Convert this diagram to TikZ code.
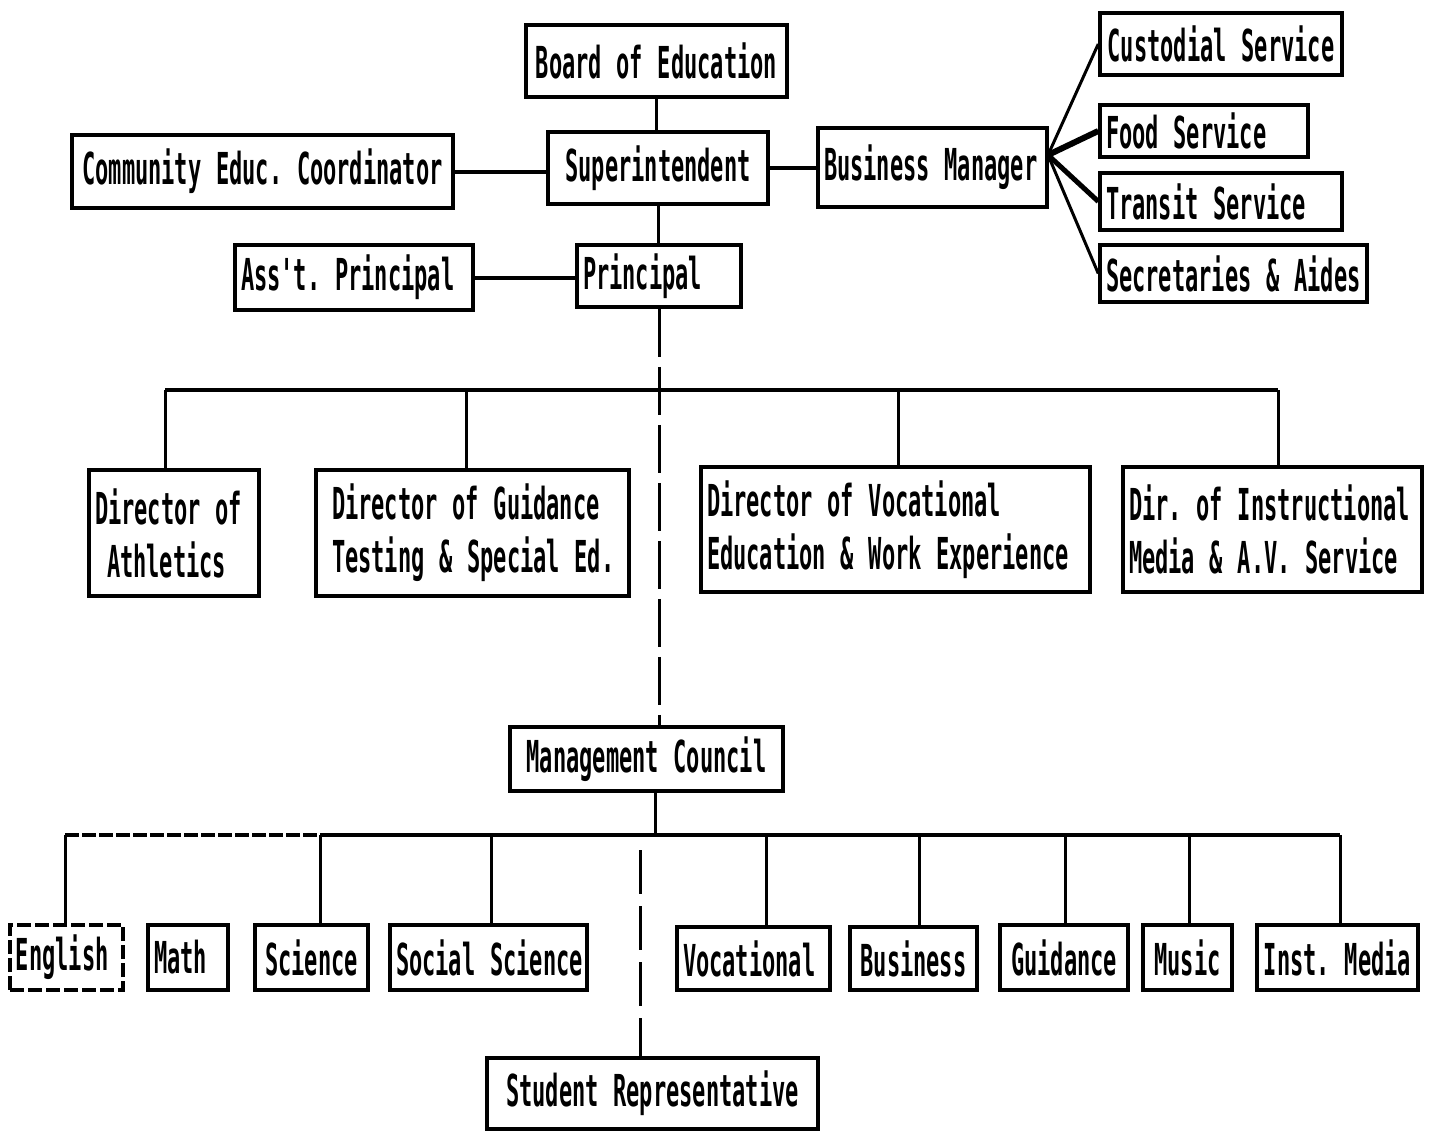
\documentclass[tikz,border=0pt]{standalone}
\usepackage{fontspec}
\newfontfamily\typefont[FakeStretch=0.5]{DejaVu Sans Mono}
\tikzset{
  box/.style={draw, line width=3.5pt, inner xsep=6pt, inner ysep=0pt,
              font=\typefont\bfseries\fontsize{44}{53}\selectfont\frenchspacing},
  link/.style={line width=3pt},
  bus/.style={line width=4pt},
  spinedash/.style={line width=3pt, dash pattern=on 48pt off 10pt},
  dashedbox/.style={dash pattern=on 14pt off 4pt},
}
% name, x1, y1, x2, y2, options, text
\newcommand\bx[7]{%
  \pgfmathsetmacro\bxw{#4-#2}%
  \pgfmathsetmacro\bxh{#5-#3}%
  \pgfmathsetmacro\bxt{#4-#2-12}%
  \pgfmathsetmacro\bxcx{(#2+#4)/2}%
  \pgfmathsetmacro\bxcy{(#3+#5)/2}%
  \node[box, minimum width=\bxw pt, minimum height=\bxh pt, text width=\bxt pt, #6] (#1) at (\bxcx,\bxcy) {#7};}
\begin{document}
\begin{tikzpicture}[x=1pt,y=-1pt]
\fill[white] (0,0) rectangle (1434,1132);
\useasboundingbox (0,0) rectangle (1434,1132);

% top level
\bx{boe}{526}{25}{787}{97}{align=center}{\mbox{Board of Education}}
\bx{sup}{548}{132}{768}{204}{align=center}{\mbox{Superintendent}}
\bx{bm}{818}{128}{1047}{207}{align=left}{\mbox{Business Manager}}
\bx{cec}{72}{135}{453}{208}{align=center}{\mbox{Community Educ. Coordinator}}
\bx{pr}{577}{245}{741}{307}{align=left}{\mbox{Principal}}
\bx{ap}{235}{245}{473}{310}{align=left}{\mbox{Ass't. Principal}}

% services
\bx{cs}{1100}{13}{1342}{75}{align=center}{\mbox{Custodial Service}}
\bx{fs}{1100}{105}{1308}{157}{align=left}{\mbox{Food Service}}
\bx{ts}{1100}{173}{1342}{230}{align=left}{\mbox{Transit Service}}
\bx{sa}{1100}{245}{1367}{302}{align=left}{\mbox{Secretaries \& Aides}}

% directors
\bx{da}{89}{470}{259}{596}{align=left}{\mbox{Director of}\\\mbox{\hspace*{12pt}Athletics}}
\bx{dg}{316}{470}{629}{596}{align=left}{\mbox{\hspace*{10pt}Director of Guidance}\\\mbox{\hspace*{10pt}Testing \& Special Ed.}}
\bx{dv}{701}{467}{1090}{592}{align=left}{\mbox{Director of Vocational}\\\mbox{Education \& Work Experience}}
\bx{di}{1123}{467}{1422}{592}{align=left}{\mbox{Dir. of Instructional}\\\mbox{Media \& A.V. Service}}

% management council and student representative
\bx{mc}{510}{727}{783}{791}{align=center}{\mbox{Management Council}}
\bx{sr}{487}{1058}{818}{1129}{align=center}{\mbox{Student Representative}}

% departments
\bx{en}{10}{925}{123}{990}{align=left,dashedbox}{\mbox{English}}
\bx{ma}{148}{925}{228}{990}{align=left}{\mbox{Math}}
\bx{sc}{255}{925}{368}{990}{align=center}{\mbox{Science}}
\bx{ss}{390}{925}{587}{990}{align=center}{\mbox{Social Science}}
\bx{vo}{677}{927}{830}{990}{align=left}{\mbox{Vocational}}
\bx{bu}{850}{927}{977}{990}{align=center}{\mbox{Business}}
\bx{gu}{1000}{925}{1128}{990}{align=center}{\mbox{Guidance}}
\bx{mu}{1143}{925}{1232}{990}{align=center}{\mbox{Music}}
\bx{im}{1257}{925}{1418}{990}{align=center}{\mbox{Inst. Media}}

% connectors, top
\draw[link] (boe.south) -- (boe.south |- sup.north);
\draw[link] (sup.south) -- (sup.south |- pr.north);
\draw[bus] (cec.east) -- (cec.east -| sup.west);
\draw[bus] (sup.east) -- (sup.east -| bm.west);
\draw[bus] (ap.east) -- (ap.east -| pr.west);

% business manager fan
\coordinate (fan) at (1048,155);
\draw[line width=3pt] (fan) -- (cs.west);
\draw[line width=6pt] (fan) -- (fs.west);
\draw[line width=5pt] (fan) -- (ts.west);
\draw[line width=3pt] (fan) -- (sa.west);

% spine from principal to management council
\draw[spinedash] (pr.south) -- (pr.south |- mc.north);

% director bus
\coordinate (b1) at (165,390);
\coordinate (b2) at (466,390);
\coordinate (b3) at (898,390);
\coordinate (b4) at (1278,390);
\draw[bus] (b1) -- (b4);
\draw[link] (b1) -- (b1 |- da.north);
\draw[link] (b2) -- (b2 |- dg.north);
\draw[link] (b3) -- (b3 |- dv.north);
\draw[link] (b4) -- (b4 |- di.north);

% department bus
\coordinate (m0) at (655,835);
\coordinate (c1) at (65,835);
\coordinate (c2) at (320,835);
\coordinate (c3) at (491,835);
\coordinate (c4) at (766,835);
\coordinate (c5) at (919,835);
\coordinate (c6) at (1065,835);
\coordinate (c7) at (1189,835);
\coordinate (c8) at (1340,835);
\draw[link] (m0 |- mc.south) -- (m0);
\draw[bus, dash pattern=on 14pt off 3pt] (c1) -- (c2);
\draw[bus] (c2) -- (c8);
\draw[link] (c1) -- (c1 |- en.north);
\draw[link] (c2) -- (c2 |- sc.north);
\draw[link] (c3) -- (c3 |- ss.north);
\draw[link] (c4) -- (c4 |- vo.north);
\draw[link] (c5) -- (c5 |- bu.north);
\draw[link] (c6) -- (c6 |- gu.north);
\draw[link] (c7) -- (c7 |- mu.north);
\draw[link] (c8) -- (c8 |- im.north);

% student representative line
\coordinate (s0) at (640,850);
\draw[line width=3pt, dash pattern=on 44pt off 12pt] (s0) -- (s0 |- sr.north);
\end{tikzpicture}
\end{document}
